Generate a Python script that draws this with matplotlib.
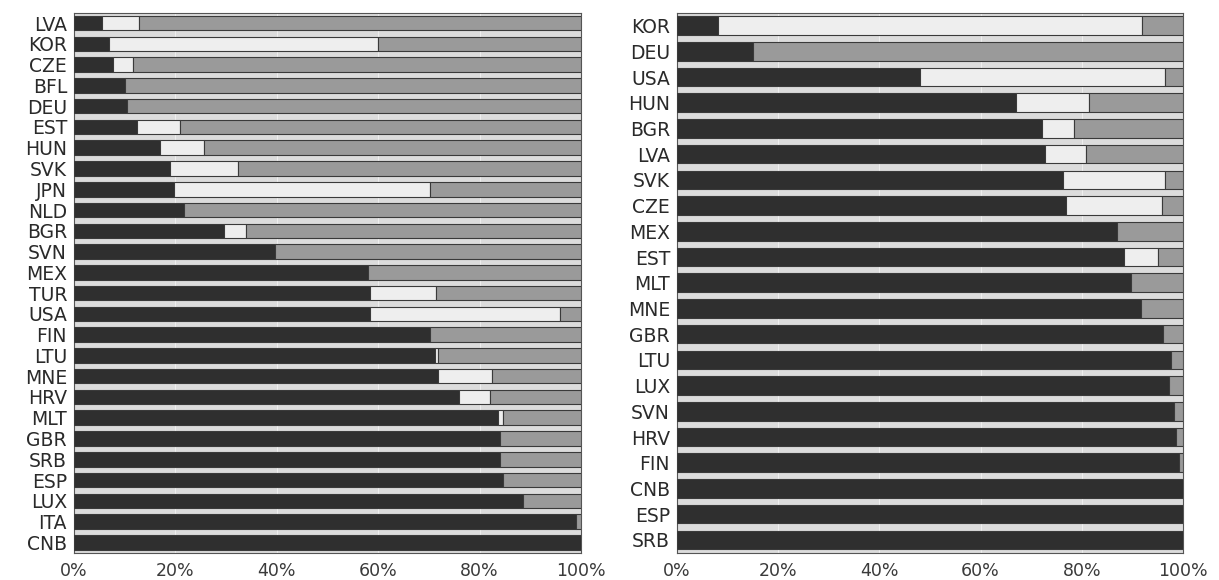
import matplotlib.pyplot as plt
import numpy as np

# Левая панель: доля тёмного и светлого сегментов (%), остаток — серый
left_names = ["LVA", "KOR", "CZE", "BFL", "DEU", "EST", "HUN", "SVK", "JPN", "NLD",
              "BGR", "SVN", "MEX", "TUR", "USA", "FIN", "LTU", "MNE", "HRV", "MLT",
              "GBR", "SRB", "ESP", "LUX", "ITA", "CNB"]
left_dark = [5.5, 7.0, 7.7, 10.0, 10.5, 12.4, 17.0, 19.0, 19.7, 21.7,
             29.6, 39.6, 58.0, 58.4, 58.4, 70.2, 71.2, 71.8, 76.0, 83.6,
             84.0, 84.0, 84.6, 88.6, 99.0, 100.0]
left_light = [7.3, 53.0, 3.9, 0.0, 0.0, 8.6, 8.6, 13.3, 50.5, 0.0,
              4.4, 0.0, 0.0, 13.0, 37.5, 0.0, 0.5, 10.6, 6.0, 1.0,
              0.0, 0.0, 0.0, 0.0, 0.0, 0.0]

# Правая панель
right_names = ["KOR", "DEU", "USA", "HUN", "BGR", "LVA", "SVK", "CZE", "MEX", "EST",
               "MLT", "MNE", "GBR", "LTU", "LUX", "SVN", "HRV", "FIN", "CNB", "ESP", "SRB"]
right_dark = [8.1, 15.0, 48.0, 67.0, 72.1, 72.7, 76.3, 76.9, 87.0, 88.3,
              89.7, 91.7, 96.0, 97.6, 97.2, 98.2, 98.6, 99.2, 100.0, 100.0, 100.0]
right_light = [83.8, 0.0, 48.4, 14.4, 6.4, 8.1, 20.1, 18.9, 0.0, 6.7,
               0.0, 0.0, 0.0, 0.0, 0.0, 0.0, 0.0, 0.0, 0.0, 0.0, 0.0]

ticks = [0, 20, 40, 60, 80, 100]
tick_labels = ["0%", "20%", "40%", "60%", "80%", "100%"]

c_dark = "#2f2f2f"
c_light = "#eeeeee"
c_gray = "#9a9a9a"
c_bg = "#dcdcdc"

plt.rcParams['font.family'] = ['DejaVu Sans']

fig = plt.figure(figsize=(12.19, 5.8), dpi=100)
ax1 = fig.add_axes([0.0607, 0.047, 0.416, 0.931])
ax2 = fig.add_axes([0.5554, 0.047, 0.415, 0.931])


def draw(ax, names, dark, light, h):
    dark = np.array(dark)
    light = np.array(light)
    gray = np.clip(100 - dark - light, 0, None)
    y = np.arange(len(names))
    ax.set_facecolor(c_bg)
    kw = dict(height=h, edgecolor="#3a3a3a", linewidth=0.8, zorder=3)
    ax.barh(y, dark, color=c_dark, **kw)
    ax.barh(y, light, left=dark, color=c_light, **kw)
    ax.barh(y, gray, left=dark + light, color=c_gray, **kw)
    ax.set_xlim(0, 100)
    ax.set_ylim(len(names) - 0.5, -0.5)
    ax.set_yticks(y)
    ax.set_yticklabels(names, fontsize=13.5, color="#2a2a2a")
    ax.set_xticks(ticks)
    ax.set_xticklabels(tick_labels, fontsize=12.5, color="#3a3a3a")
    ax.tick_params(axis="y", length=0, pad=5)
    ax.tick_params(axis="x", length=0, pad=7)
    ax.xaxis.grid(True, color="#eeeeee", linewidth=0.8, zorder=0)
    ax.set_axisbelow(True)
    for s in ax.spines.values():
        s.set_color("#555555")
        s.set_linewidth(0.8)


draw(ax1, left_names, left_dark, left_light, 0.7)
draw(ax2, right_names, right_dark, right_light, 0.72)

fig.savefig("out.png", dpi=100)
